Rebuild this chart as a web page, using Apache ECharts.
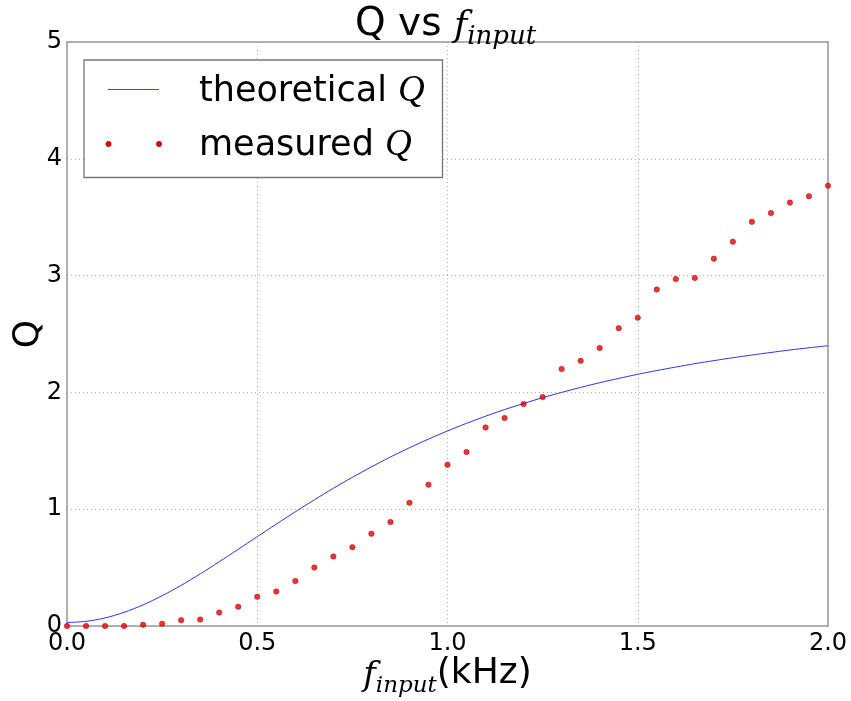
<!DOCTYPE html>
<html><head><meta charset="utf-8">
<script src="https://cdn.jsdelivr.net/npm/echarts@6/dist/echarts.min.js"></script>
<style>html,body{margin:0;padding:0;background:#fff}#c{width:851px;height:701px}</style>
</head><body><div id="c"></div>
<script>
var freq = [0.00,0.05,0.10,0.15,0.20,0.25,0.30,0.35,0.40,0.45,0.50,0.55,0.60,0.65,0.70,0.75,0.80,0.85,0.90,0.95,1.00,1.05,1.10,1.15,1.20,1.25,1.30,1.35,1.40,1.45,1.50,1.55,1.60,1.65,1.70,1.75,1.80,1.85,1.90,1.95,2.00];
var theoreticalQ = [0.030,0.040,0.069,0.117,0.181,0.259,0.348,0.446,0.550,0.657,0.765,0.872,0.978,1.080,1.179,1.273,1.362,1.447,1.526,1.600,1.670,1.735,1.796,1.853,1.905,1.955,2.000,2.043,2.083,2.120,2.155,2.187,2.217,2.246,2.272,2.297,2.320,2.342,2.363,2.382,2.400];
var measuredQ = [0.00,0.00,0.00,0.00,0.01,0.02,0.05,0.055,0.115,0.165,0.25,0.295,0.385,0.50,0.595,0.675,0.79,0.89,1.055,1.21,1.38,1.49,1.70,1.78,1.90,1.96,2.20,2.27,2.38,2.55,2.64,2.88,2.97,2.98,3.145,3.29,3.46,3.535,3.625,3.68,3.77];
var xTicks = [0.0,0.5,1.0,1.5,2.0];
var yTicks = [0,1,2,3,4,5];

var chart = echarts.init(document.getElementById('c'));
var sans = 'DejaVu Sans';
var serif = 'DejaVu Serif';
var spine = {color:'#999', width:1.5};
var L=67, R=828, T=42, B=626;
var mathRich = {
  a:{fontFamily:sans,fontSize:36,fontWeight:'normal',color:'#000',verticalAlign:'top'},
  f:{fontFamily:serif,fontStyle:'italic',fontWeight:'normal',fontSize:34,color:'#000',verticalAlign:'top',padding:[3,0,0,0]},
  s:{fontFamily:serif,fontStyle:'italic',fontWeight:'normal',fontSize:23,color:'#000',verticalAlign:'top',padding:[19,0,0,0]}
};
var titleRich = {
  a:{fontFamily:sans,fontSize:39,fontWeight:'normal',color:'#000',verticalAlign:'top'},
  f:{fontFamily:serif,fontStyle:'italic',fontWeight:'normal',fontSize:36,color:'#000',verticalAlign:'top',padding:[4,0,0,0]},
  s:{fontFamily:serif,fontStyle:'italic',fontWeight:'normal',fontSize:26,color:'#000',verticalAlign:'top',padding:[19,0,0,0]}
};
var option = {
  animation:false,
  backgroundColor:'#fff',
  title:{
    text:'{a|Q vs }{f|f}{s|input}',
    left:350, top:0,
    textStyle:{fontWeight:'normal',rich:titleRich}
  },
  grid:{left:L,right:851-R,top:T,bottom:701-B,show:false,containLabel:false,outerBoundsMode:'none'},
  xAxis:[{
    type:'value',min:0,max:2,interval:0.5,
    name:'{f|f}{s|input}{a|(kHz)}',nameLocation:'middle',nameGap:30,nameMoveOverlap:false,
    nameTextStyle:{rich:mathRich},
    axisLine:{show:true,onZero:false,lineStyle:spine},
    axisTick:{show:false},
    axisLabel:{fontFamily:sans,fontSize:24,color:'#000',margin:6,formatter:function(v){return v.toFixed(1);}},
    splitLine:{show:true,lineStyle:{color:'#b0b0b0',type:[1,3],width:1}}
  },{
    type:'value',min:0,max:2,interval:0.5,position:'top',
    axisLine:{show:true,onZero:false,lineStyle:spine},
    axisTick:{show:false},
    axisLabel:{show:false},splitLine:{show:false}
  }],
  yAxis:[{
    type:'value',min:0,max:5,interval:1,
    name:'Q',nameLocation:'middle',nameGap:20,nameRotate:90,nameMoveOverlap:false,
    nameTextStyle:{fontFamily:sans,fontSize:36,color:'#000'},
    axisLine:{show:true,onZero:false,lineStyle:spine},
    axisTick:{show:false},
    axisLabel:{fontFamily:sans,fontSize:24,color:'#000',margin:5},
    splitLine:{show:true,lineStyle:{color:'#b0b0b0',type:[1,3],width:1}}
  },{
    type:'value',min:0,max:5,interval:1,position:'right',
    axisLine:{show:true,onZero:false,lineStyle:spine},
    axisTick:{show:false},
    axisLabel:{show:false},splitLine:{show:false}
  }],
  series:[{
    name:'theoretical Q',type:'line',
    data:freq.map(function(x,i){return [x,theoreticalQ[i]];}),
    smooth:0.3,showSymbol:false,lineStyle:{color:'#3030ff',width:1},z:3
  },{
    name:'measured Q',type:'scatter',
    data:freq.map(function(x,i){return [x,measuredQ[i]];}),
    symbol:'circle',symbolSize:5.5,
    itemStyle:{color:'#ee0000',borderColor:'#900000',borderWidth:0.5},z:4
  }],
  graphic:[
    {type:'rect',shape:{x:84,y:60,width:358.5,height:117.5},style:{fill:'#fff',stroke:'#777',lineWidth:1.3},z:10},
    {type:'line',shape:{x1:108,y1:89.5,x2:159,y2:89.5},style:{stroke:'#4040ff',lineWidth:1},z:11},
    {type:'circle',shape:{cx:108.5,cy:144,r:2.7},style:{fill:'#ee0000',stroke:'#900000',lineWidth:0.5},z:11},
    {type:'circle',shape:{cx:159,cy:144,r:2.7},style:{fill:'#ee0000',stroke:'#900000',lineWidth:0.5},z:11},
    {type:'text',left:199,top:73,z:11,style:{text:'{a|theoretical }{q|Q}',rich:{
      a:{fontFamily:sans,fontSize:35,fill:'#000'},
      q:{fontFamily:'Liberation Serif',fontStyle:'italic',fontSize:37,fill:'#000'}}}},
    {type:'text',left:199,top:127,z:11,style:{text:'{a|measured }{q|Q}',rich:{
      a:{fontFamily:sans,fontSize:35,fill:'#000'},
      q:{fontFamily:'Liberation Serif',fontStyle:'italic',fontSize:37,fill:'#000'}}}}
  ]
};
chart.setOption(option);
</script></body></html>
